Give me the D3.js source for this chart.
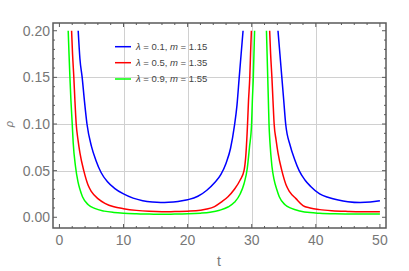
<!DOCTYPE html>
<html>
<head>
<meta charset="utf-8">
<script src="https://cdn.jsdelivr.net/npm/d3@7"></script>
<style>
  html, body { margin: 0; padding: 0; background: #fff; }
  svg { display: block; font-family: "Liberation Sans", "DejaVu Sans", sans-serif; }
</style>
</head>
<body>
<div id="chart"></div>
<script>
// values: [t, rho]
const blueLeft = [
  [2.93, 0.200], [3.2, 0.170], [3.55, 0.150], [3.9, 0.125], [4.3, 0.100], [5.0, 0.076],
  [5.7, 0.061], [6.5, 0.048], [7.5, 0.038], [8.6, 0.031], [10.0, 0.025], [11.5, 0.0205],
  [13.0, 0.0178], [14.5, 0.0164], [15.8, 0.0159], [17.0, 0.0161], [18.5, 0.0170],
  [20.0, 0.0188], [21.6, 0.0225], [23.0, 0.029], [24.2, 0.037], [25.2, 0.046], [26.0, 0.058],
  [26.7, 0.074], [27.3, 0.098], [27.7, 0.120], [28.05, 0.150], [28.35, 0.175], [28.65, 0.200]
];
const blueRight = [
  [34.1, 0.200], [34.4, 0.175], [34.7, 0.150], [35.0, 0.125], [35.3, 0.100], [36.0, 0.077],
  [36.7, 0.062], [37.4, 0.050], [38.3, 0.040], [39.2, 0.033], [40.6, 0.025], [42.0, 0.0212],
  [43.5, 0.0185], [45.0, 0.0167], [46.9, 0.0158], [48.5, 0.0163], [50.0, 0.0177]
];
const redLeft = [
  [1.90, 0.200], [2.05, 0.175], [2.25, 0.150], [2.42, 0.125], [2.62, 0.100], [2.9, 0.083],
  [3.2, 0.069], [3.8, 0.050], [4.5, 0.034], [5.0, 0.0275], [6.0, 0.020], [7.1, 0.015],
  [8.5, 0.0112], [10.0, 0.0092], [12.0, 0.0074], [14.0, 0.0064], [16.0, 0.0060],
  [18.0, 0.0061], [20.4, 0.0066], [22.0, 0.0076], [23.0, 0.0088], [24.2, 0.0115],
  [25.3, 0.0165], [26.3, 0.022], [27.3, 0.030], [28.2, 0.040], [28.8, 0.050], [29.1, 0.068],
  [29.35, 0.100], [29.5, 0.125], [29.7, 0.150], [29.82, 0.175], [29.95, 0.200]
];
const redRight = [
  [32.8, 0.200], [32.95, 0.175], [33.15, 0.150], [33.32, 0.125], [33.5, 0.100], [33.8, 0.083],
  [34.1, 0.069], [34.7, 0.050], [35.4, 0.034], [35.9, 0.0275], [36.9, 0.020], [38.0, 0.0125],
  [39.1, 0.0100], [40.6, 0.0082], [42.5, 0.0070], [45.0, 0.0063], [47.0, 0.0060], [50.0, 0.0060]
];
const greenLeft = [
  [1.37, 0.200], [1.5, 0.175], [1.64, 0.150], [1.8, 0.125], [2.0, 0.100], [2.15, 0.080],
  [2.5, 0.055], [2.9, 0.038], [3.2, 0.030], [3.6, 0.022], [4.5, 0.0135], [5.5, 0.0095],
  [7.0, 0.0066], [8.5, 0.0052], [10.0, 0.0044], [12.0, 0.0038], [14.0, 0.0034],
  [16.0, 0.0033], [18.0, 0.0034], [20.0, 0.0037], [22.0, 0.0044], [23.5, 0.0054],
  [25.0, 0.0075], [26.3, 0.0110], [27.3, 0.016], [28.2, 0.025], [28.8, 0.036], [29.3, 0.052],
  [29.65, 0.075], [29.98, 0.100], [30.1, 0.125], [30.25, 0.150], [30.35, 0.175], [30.45, 0.200]
];
const greenRight = [
  [32.3, 0.200], [32.4, 0.175], [32.5, 0.150], [32.6, 0.125], [32.7, 0.100], [32.85, 0.080],
  [33.15, 0.055], [33.5, 0.040], [33.9, 0.030], [34.3, 0.022], [35.2, 0.0135], [36.2, 0.0095],
  [37.5, 0.0068], [39.1, 0.0050], [40.6, 0.0043], [43.0, 0.0037], [46.0, 0.0034], [50.0, 0.0035]
];

const seriesColors = ["#0000ff", "#ff0000", "#00ff00"];
const lambdaValues = ["0.1", "0.5", "0.9"];
const mValues = ["1.15", "1.35", "1.55"];
const xTicks = [0, 10, 20, 30, 40, 50];
const yTicks = [0.00, 0.05, 0.10, 0.15, 0.20];

function drawChart() {
    const width = 409, height = 271;
    const left = 53, right = 386, top = 23, bottom = 228;

    const svg = d3.select("#chart").append("svg")
        .attr("width", width)
        .attr("height", height);

    const x = d3.scaleLinear().domain([-1.0, 50.95]).range([left, right]);
    const y = d3.scaleLinear().domain([-0.0115, 0.2083]).range([bottom, top]);

    svg.append("defs").append("clipPath").attr("id", "plot-clip")
        .append("rect")
        .attr("x", left).attr("y", top)
        .attr("width", right - left).attr("height", bottom - top);

    // grid lines
    const grid = svg.append("g").attr("stroke", "#d0d0d0").attr("stroke-width", 1);
    grid.selectAll(".vgrid")
        .data([10, 20, 30, 40])
        .join("line")
        .attr("x1", d => Math.round(x(d)) + 0.5).attr("x2", d => Math.round(x(d)) + 0.5)
        .attr("y1", top).attr("y2", bottom);
    grid.selectAll(".hgrid")
        .data([0.05, 0.10, 0.15])
        .join("line")
        .attr("y1", d => Math.round(y(d)) + 0.5).attr("y2", d => Math.round(y(d)) + 0.5)
        .attr("x1", left).attr("x2", right);

    // curves
    const line = d3.line()
        .x(d => x(d[0]))
        .y(d => y(d[1]))
        .curve(d3.curveMonotoneX);

    const branches = [
        { pts: greenLeft, c: 2 }, { pts: greenRight, c: 2 },
        { pts: redLeft, c: 1 }, { pts: redRight, c: 1 },
        { pts: blueLeft, c: 0 }, { pts: blueRight, c: 0 }
    ];
    svg.append("g").attr("clip-path", "url(#plot-clip)")
        .selectAll("path")
        .data(branches)
        .join("path")
        .attr("d", d => line(d.pts))
        .attr("fill", "none")
        .attr("stroke", d => seriesColors[d.c])
        .attr("stroke-width", 1.5);

    // frame with inward ticks on all four sides
    const frameColor = "#5a5a5a";
    const ticks = svg.append("g").attr("stroke", frameColor).attr("stroke-width", 1);
    const xMinor = d3.range(0, 51, 2);
    const yMinor = d3.range(0, 0.2001, 0.01);
    const isMajorX = d => d % 10 === 0;
    const isMajorY = d => Math.abs(d / 0.05 - Math.round(d / 0.05)) < 1e-6;

    ticks.selectAll(".xb").data(xMinor).join("line")
        .attr("x1", d => x(d)).attr("x2", d => x(d))
        .attr("y1", bottom).attr("y2", d => bottom - (isMajorX(d) ? 4 : 2));
    ticks.selectAll(".xt").data(xMinor).join("line")
        .attr("x1", d => x(d)).attr("x2", d => x(d))
        .attr("y1", top).attr("y2", d => top + (isMajorX(d) ? 4 : 2));
    ticks.selectAll(".yl").data(yMinor).join("line")
        .attr("y1", d => y(d)).attr("y2", d => y(d))
        .attr("x1", left).attr("x2", d => left + (isMajorY(d) ? 4 : 2));
    ticks.selectAll(".yr").data(yMinor).join("line")
        .attr("y1", d => y(d)).attr("y2", d => y(d))
        .attr("x1", right).attr("x2", d => right - (isMajorY(d) ? 4 : 2));

    svg.append("rect")
        .attr("x", left).attr("y", top)
        .attr("width", right - left).attr("height", bottom - top)
        .attr("fill", "none")
        .attr("stroke", frameColor)
        .attr("stroke-width", 1.5);

    // tick labels
    const labelColor = "#777";
    svg.selectAll(".xlab").data(xTicks).join("text")
        .attr("x", d => x(d))
        .attr("y", 245)
        .attr("text-anchor", "middle")
        .style("font-size", "14px")
        .style("fill", labelColor)
        .text(d => d);
    svg.selectAll(".ylab").data(yTicks).join("text")
        .attr("x", 50)
        .attr("y", d => y(d) + 5)
        .attr("text-anchor", "end")
        .style("font-size", "14px")
        .style("fill", labelColor)
        .text(d => d3.format(".2f")(d));

    // axis titles
    svg.append("text")
        .attr("x", 219).attr("y", 266)
        .attr("text-anchor", "middle")
        .style("font-size", "14px")
        .style("fill", labelColor)
        .text("t");
    svg.append("text")
        .attr("transform", "translate(13,124) rotate(-90)")
        .attr("text-anchor", "middle")
        .style("font-size", "11px")
        .style("font-style", "italic")
        .style("fill", labelColor)
        .text("ρ");

    // legend
    const legend = svg.append("g");
    const rowY = [46.7, 62.7, 79];
    seriesColors.forEach((col, i) => {
        legend.append("line")
            .attr("x1", 115).attr("x2", 131)
            .attr("y1", rowY[i]).attr("y2", rowY[i])
            .attr("stroke", col).attr("stroke-width", 1.5);
        const t = legend.append("text")
            .attr("x", 136).attr("y", rowY[i] + 3.3)
            .style("font-size", "9.5px")
            .style("fill", "#444");
        t.append("tspan").style("font-style", "italic").text("λ");
        t.append("tspan").text(" = " + lambdaValues[i] + ", ");
        t.append("tspan").style("font-style", "italic").text("m");
        t.append("tspan").text(" = " + mValues[i]);
    });
}

drawChart();
</script>
</body>
</html>
